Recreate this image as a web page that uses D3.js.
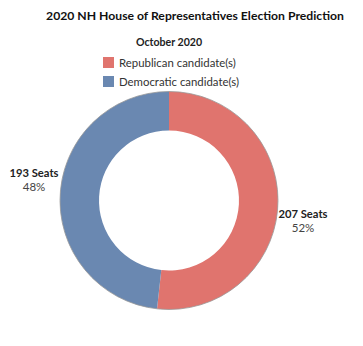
<!DOCTYPE html>
<html><head><meta charset="utf-8">
<script src="https://cdn.jsdelivr.net/npm/d3@7"></script>
<style>body{margin:0;background:#fff;} svg{display:block;}</style>
</head><body>
<svg id="chart" width="363" height="346"></svg>
<script>
const title = "2020 NH House of Representatives Election Prediction";
const subtitle = "October 2020";
const categories = ["Republican candidate(s)", "Democratic candidate(s)"];
const seats = [207, 193];
const percents = ["52%", "48%"];
const colors = ["#e0746e", "#6a88b1"];

const svg = d3.select("#chart");
const font = "Lato, 'Open Sans', sans-serif";
const cx = 169, cy = 200.5, rOuter = 109, rInner = 70;

svg.append("text").attr("x", 195).attr("y", 20).attr("text-anchor", "middle")
  .attr("font-family", font).attr("font-weight", "bold").attr("font-size", 12.2)
  .attr("fill", "#111").text(title);
svg.append("text").attr("x", 169).attr("y", 46).attr("text-anchor", "middle")
  .attr("font-family", font).attr("font-weight", "bold").attr("font-size", 10.6)
  .attr("fill", "#222").text(subtitle);

const leg = svg.append("g");
categories.forEach((c, i) => {
  const y = 57 + i * 19;
  leg.append("rect").attr("x", 103).attr("y", y).attr("width", 11).attr("height", 11)
    .attr("fill", colors[i]);
  leg.append("text").attr("x", 119).attr("y", y + 9.5)
    .attr("font-family", font).attr("font-size", 11.4).attr("fill", "#333").text(c);
});

const pie = d3.pie().sort(null).value(d => d);
const arcs = pie(seats);
const arc = d3.arc().innerRadius(rInner).outerRadius(rOuter);
const g = svg.append("g").attr("transform", `translate(${cx},${cy})`);
g.selectAll("path").data(arcs).join("path")
  .attr("d", arc).attr("fill", (d, i) => colors[i]);
g.append("circle").attr("r", rOuter).attr("fill", "none").attr("stroke", "#999").attr("stroke-width", 0.8);

const labelPos = [[303, 214], [34, 173]];
arcs.forEach((d, i) => {
  const [x, y] = labelPos[i];
  const t = svg.append("text").attr("text-anchor", "middle").attr("font-family", font);
  t.append("tspan").attr("x", x).attr("y", y + 4).attr("font-weight", "bold").attr("font-size", 11.2)
    .attr("fill", "#222").text(seats[i] + " Seats");
  t.append("tspan").attr("x", x).attr("y", y + 18).attr("font-size", 11.5)
    .attr("fill", "#444").text(percents[i]);
});
</script>
</body></html>
